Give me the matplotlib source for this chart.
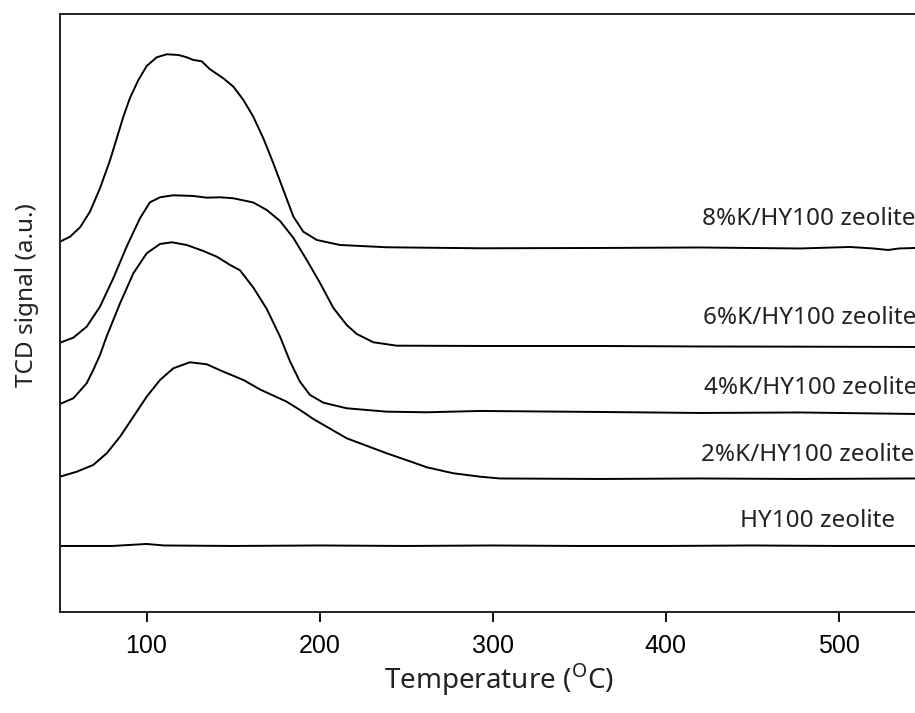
import matplotlib
matplotlib.use("Agg")
import matplotlib.pyplot as plt

plt.rcParams['mathtext.fontset'] = 'custom'
plt.rcParams['mathtext.rm'] = 'Noto Sans'

# TPD profiles (temperature in C, signal in a.u.)
t_8k = [50, 55.8, 61.6, 67.3, 73.1, 78.9, 82.8, 86.6, 90.5, 95.3, 100.1, 105.9,
        111.7, 118.4, 123.2, 127.1, 131.9, 136.7, 144.4, 150.2, 156.0, 161.7,
        167.5, 173.3, 179.1, 184.9, 190.6, 198.4, 211.8, 238.8, 292.8, 362.1,
        419.9, 477.7, 506.6, 520.0, 528.6, 535.0, 544.2]
s_8k = [370.3, 375.3, 384.7, 400.3, 423.7, 451.7, 473.7, 495.3, 514.3, 532, 546, 554.7,
        557.7, 557, 554.7, 552, 550.7, 542.7, 533.7, 525.3, 512, 495.3,
        473.7, 448.7, 422, 395.3, 380.3, 372, 367, 364.7, 363.7, 364,
        364.5, 363.5, 365, 363.5, 362, 363.5, 364]

t_6k = [50, 57.7, 65.4, 73.1, 80.8, 88.5, 96.2, 102.0, 107.8, 115.5, 127.1, 134.8,
        142.5, 150.2, 161.7, 169.5, 177.2, 184.9, 192.6, 200.3, 208.0, 215.7,
        221.5, 231.1, 244.6, 292.8, 362.1, 419.9, 477.7, 544.2]
s_6k = [269.3, 274.3, 285.3, 305.3, 333.7, 365.3, 393.7, 409.7, 414.7, 416.7, 416, 414.3,
        414.7, 413.7, 409.5, 402, 391, 374, 352, 329, 304, 287,
        278, 269.7, 266.3, 266, 266, 265.5, 265.3, 265]

t_4k = [50, 57.7, 65.4, 69.2, 73.1, 76.9, 84.7, 92.4, 100.1, 107.8, 114.6, 123.2,
        132.8, 140.6, 148.3, 154.0, 161.7, 169.5, 177.2, 183.0, 188.7, 194.5,
        202.2, 215.7, 238.8, 262.0, 292.8, 362.1, 419.9, 477.7, 544.2]
s_4k = [208, 213.7, 228.7, 242, 257, 275.3, 308.7, 338.7, 358.7, 368, 369.7, 367,
        361, 355.3, 347, 341.7, 324.5, 303, 275.3, 250.3, 230.3, 217,
        209.3, 203.7, 200.3, 199.7, 201, 200, 199, 199.5, 198]

t_2k = [50, 59.7, 69.2, 77.0, 84.7, 92.4, 100.1, 107.8, 115.5, 125.1, 134.8, 144.4,
        156.0, 165.6, 181.0, 188.7, 196.4, 215.7, 238.8, 254.2,
        262.0, 277.3, 292.8, 304.3, 362.1, 419.9, 477.7, 544.2]
s_2k = [135.3, 140.3, 147, 158.7, 175.3, 195.3, 215.3, 232, 243.7, 249.7, 247.7, 240.3,
        232, 222.5, 210.3, 202, 193, 173.7, 158.7, 149.5,
        144.7, 138.7, 135.3, 133.5, 133, 133.5, 133, 133.5]

t_hy = [50, 80, 95, 100, 110, 150, 200, 250, 300, 350, 400, 450, 500, 544.2]
s_hy = [66, 66, 67.5, 68, 66.5, 66, 66.5, 66, 66.5, 66, 66, 66.5, 66, 66]

labels = ['8%K/HY100 zeolite', '6%K/HY100 zeolite', '4%K/HY100 zeolite',
          '2%K/HY100 zeolite', 'HY100 zeolite']
label_t = [421.1, 421.7, 422.3, 420.5, 443.1]
label_s = [393, 294, 224, 157, 91]

fig = plt.figure(figsize=(9.15, 7.13), dpi=100)
ax = fig.add_axes([0.0656, 0.1417, 0.9344, 0.8387])

for t, s in [(t_8k, s_8k), (t_6k, s_6k), (t_4k, s_4k), (t_2k, s_2k), (t_hy, s_hy)]:
    ax.plot(t, s, color='black', lw=1.4)

for lab, lt, ls in zip(labels, label_t, label_s):
    ax.text(lt, ls, lab, fontsize=17.5, family='Noto Sans', color='#222222',
            ha='left', va='center')

ax.set_xlim(50, 544.2)
ax.set_ylim(0, 598)
ax.set_xticks([100, 200, 300, 400, 500])
ax.set_yticks([])
ax.tick_params(axis='x', length=7, width=1.3, labelsize=18, pad=9)
for lbl in ax.get_xticklabels():
    lbl.set_family('Liberation Sans')
ax.spines['right'].set_visible(False)
for sp in ['left', 'top', 'bottom']:
    ax.spines[sp].set_linewidth(1.4)
    ax.spines[sp].set_color('#222222')

fig.text(0.545, 0.021, r'Temperature ($^{\mathrm{O}}$C)', fontsize=20,
         family='Noto Sans', color='#222222', ha='center', va='bottom')
fig.text(0.030, 0.586, 'TCD signal (a.u.)', fontsize=17.5, family='Noto Sans',
         color='#222222', rotation=90, ha='center', va='center')

fig.savefig('out.png', dpi=100)
